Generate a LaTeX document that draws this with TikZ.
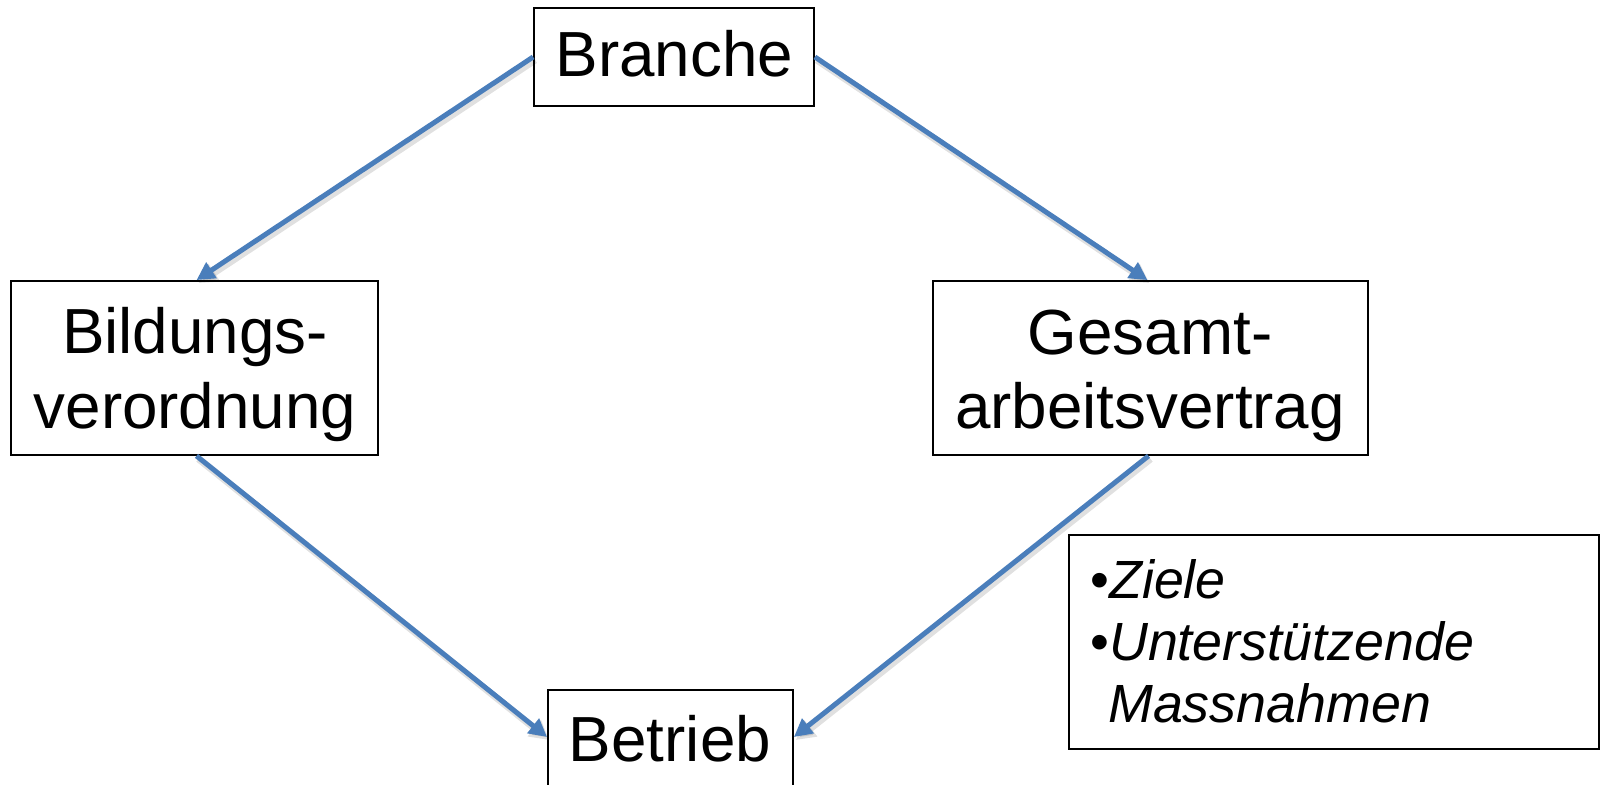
\documentclass[tikz,border=0pt]{standalone}
\usepackage{fontspec}
\setmainfont{Liberation Sans}
\usetikzlibrary{arrows.meta}
\definecolor{arrowblue}{HTML}{4A7EBB}
\begin{document}
\begin{tikzpicture}[x=1bp,y=-1bp,
  box/.style={draw=black, line width=1.8bp, inner sep=0pt, fill=white},
  lbl/.style={inner sep=0pt, anchor=base, font=\fontsize{64}{75}\selectfont},
  itl/.style={inner sep=0pt, anchor=base west, font=\fontsize{54}{62}\selectfont},
  conn/.style={draw=arrowblue, line width=5bp, -{Triangle[length=18bp,width=18bp]}},
  shad/.style={draw=black, opacity=0.12, line width=7bp, -{Triangle[length=19bp,width=20bp]},
    transform canvas={shift={(2bp,-3bp)}}}]
\fill[white] (0,0) rectangle (1604,785);
\clip (0,0) rectangle (1604,785);
% boxes
\node[box, minimum width=280bp, minimum height=98bp] (bran) at (674,57) {};
\node[lbl] (branT) at (674.5,77) {Branche};
\node[box, minimum width=367bp, minimum height=174bp] (bild) at (194.5,368) {};
\node[lbl] (bildT1) at (195,353) {Bildungs-};
\node[lbl] (bildT2) at (195,428) {verordnung};
\node[box, minimum width=435bp, minimum height=174bp] (ges) at (1150.5,368) {};
\node[lbl] (gesT1) at (1150,354) {Gesamt-};
\node[lbl] (gesT2) at (1150,428) {arbeitsvertrag};
\node[box, minimum width=245bp, minimum height=150bp, anchor=north] (bet) at (670.5,689) {};
\node[lbl] (betT) at (670,761) {Betrieb};
\node[box, minimum width=530bp, minimum height=214bp] (info) at (1334,642) {};
\node[itl] (info1) at (1090,598) {\makebox[19bp][l]{•}\textit{Ziele}};
\node[itl] (info2) at (1090,660) {\makebox[19bp][l]{•}\textit{Unterstützende}};
\node[itl] (info3) at (1108,722) {\textit{Massnahmen}};
% shadows
\draw[shad] (bran.west) -- ([xshift=2bp]bild.north);
\draw[shad] (bran.east) -- ([xshift=-3bp]ges.north);
\draw[shad] ([xshift=2bp]bild.south) -- ([yshift=-48bp]bet.north west);
\draw[shad] ([xshift=-2bp]ges.south) -- ([yshift=-48bp]bet.north east);
% connectors
\draw[conn] (bran.west) -- ([xshift=2bp]bild.north);
\draw[conn] (bran.east) -- ([xshift=-3bp]ges.north);
\draw[conn] ([xshift=2bp]bild.south) -- ([yshift=-48bp]bet.north west);
\draw[conn] ([xshift=-2bp]ges.south) -- ([yshift=-48bp]bet.north east);
\end{tikzpicture}
\end{document}
